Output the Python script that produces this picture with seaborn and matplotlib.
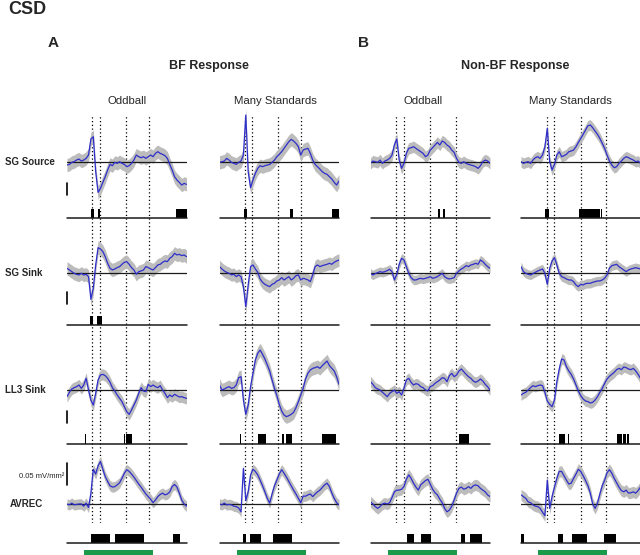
import numpy as np
import matplotlib
matplotlib.use("Agg")
import matplotlib.pyplot as plt
import seaborn as sns

# time axis of every trace (ms, relative to tone onset)
time_ms = np.arange(-100, 401, 10)

# mean CSD traces, uV/mm^2
sg_source_bf_odd = [-10, -8, -2, 0, 5, 8, 2, 5, 10, 20,
                    68, 75, -30, -92, -80, -62, -45, -25, -8, -12,
                    -2, -5, 0, -5, -8, -15, -12, -5, 5, 20,
                    15, 12, 15, 10, 15, 20, 15, 25, 30, 25,
                    22, 18, 10, -8, -25, -45, -55, -62, -70, -65,
                    -68]
sg_source_bf_ms = [-2, 0, 2, 10, 5, -2, -5, -8, -2, 2,
                   20, 140, -30, -78, -55, -35, -20, -12, -15, -12,
                   -10, -8, -2, 5, 15, 22, 30, 40, 50, 60,
                   67, 62, 55, 45, 20, 35, 38, 40, 25, 5,
                   -8, -15, -22, -30, -35, -38, -45, -52, -62, -70,
                   -58]
sg_source_nbf_odd = [-5, 2, 0, -2, 5, -5, 2, 5, 10, 20,
                     50, 68, 5, -20, -5, 25, 40, 42, 45, 40,
                     35, 30, 25, 15, 20, 35, 42, 50, 58, 50,
                     62, 58, 50, 45, 35, 28, 10, -2, -5, 0,
                     -5, -8, -10, -12, -15, -20, -12, 0, 5, 2,
                     -5]
sg_source_nbf_ms = [0, -5, -2, 0, -5, 5, 12, 15, 10, 20,
                    45, 100, 0, -25, -8, 20, 30, 15, 18, 22,
                    30, 32, 35, 45, 58, 70, 82, 95, 108, 110,
                    102, 92, 82, 70, 55, 40, 20, 2, -10, -18,
                    -15, -5, 2, 10, 15, 12, 8, 5, 0, 2,
                    -5]

sg_sink_bf_odd = [15, 10, 5, 0, -3, -5, 0, -5, -3, -10,
                  -78, -45, 25, 77, 73, 65, 50, 30, 15, 10,
                  13, 17, 20, 27, 33, 35, 27, 17, 10, -3,
                  5, 7, 10, 20, 17, 13, 10, 17, 25, 27,
                  33, 37, 35, 45, 50, 60, 55, 57, 53, 55,
                  50]
sg_sink_bf_ms = [20, 13, 7, 3, 0, -5, -3, -10, -5, -10,
                 -40, -100, -35, 20, 25, 13, 3, -17, -27, -33,
                 -37, -40, -33, -30, -23, -20, -13, -20, -15, -10,
                 -20, -15, -7, -5, -20, -15, -17, -20, -25, -5,
                 20, 25, 20, 23, 25, 27, 30, 27, 33, 37,
                 40]
sg_sink_nbf_odd = [0, -5, -1, 2, 5, 3, 5, 8, 12, 5,
                   -20, -3, 27, 45, 40, 20, 0, -13, -20, -20,
                   -17, -15, -17, -15, -13, -10, -15, -13, -10, -5,
                   0, -10, -15, -17, -15, -13, 0, 7, 13, 17,
                   23, 20, 25, 27, 30, 27, 40, 35, 27, 20,
                   15]
sg_sink_nbf_ms = [20, 5, 0, -3, -5, -1, 3, 7, 10, 13,
                  0, -33, 15, 37, 47, 25, 0, -10, -13, -17,
                  -20, -20, -25, -35, -40, -33, -35, -31, -30, -30,
                  -27, -25, -23, -23, -20, -15, -5, 15, 23, 25,
                  27, 20, 15, 10, 5, 10, 13, 15, 17, 15,
                  13]

ll3_sink_bf_odd = [-20, -7, 3, 7, 10, 15, 5, 15, 35, 0,
                   -30, -45, -10, 30, 45, 47, 43, 35, 23, 7,
                   -3, -15, -25, -35, -50, -65, -73, -60, -45, -30,
                   -10, 7, -3, -5, 17, 10, 15, 10, 7, 13,
                   0, -10, -23, -15, -20, -13, -17, -21, -20, -23,
                   -25]
ll3_sink_bf_ms = [15, 0, 3, 7, 10, 5, 7, 15, 37, 40,
                  -30, -73, -45, 10, 50, 90, 110, 120, 107, 93,
                  75, 57, 30, 5, -17, -43, -63, -75, -80, -77,
                  -73, -67, -53, -35, -15, 5, 33, 50, 60, 65,
                  67, 70, 65, 73, 80, 87, 73, 65, 57, 40,
                  17]
ll3_sink_nbf_odd = [25, 17, 7, 3, 0, -7, -13, -20, -10, -5,
                    0, -10, -5, -15, 5, 30, 35, 23, 15, 19,
                    17, 10, 7, 0, -3, 10, 13, 20, 25, 30,
                    37, 35, 25, 43, 50, 40, 45, 57, 63, 55,
                    47, 40, 35, 27, 23, 27, 33, 27, 17, 10,
                    0]
ll3_sink_nbf_ms = [-15, -10, -7, 0, 7, 13, 10, 13, 15, 13,
                   -7, -33, -43, -50, -30, 25, 63, 93, 90, 70,
                   57, 47, 33, 15, -3, -17, -27, -33, -35, -39,
                   -37, -30, -20, -7, 5, 20, 33, 41, 47, 53,
                   61, 65, 61, 69, 67, 63, 61, 65, 57, 47,
                   35]

avrec_bf_odd = [0, -2, 2, -2, -1, 0, 0, -5, 2, -8,
                25, 80, 69, 88, 98, 80, 63, 52, 42, 39,
                40, 44, 49, 59, 71, 79, 75, 69, 62, 54,
                46, 39, 31, 23, 17, 11, 3, 9, 17, 22,
                25, 21, 23, 28, 40, 45, 39, 25, 9, 0,
                -5]
avrec_bf_ms = [0, -2, 2, -2, -1, -2, -5, -6, -9, -18,
               82, 8, 28, 67, 80, 75, 67, 55, 42, 28,
               13, 2, 23, 42, 55, 69, 79, 71, 62, 52,
               42, 32, 23, 13, 3, 18, 18, 21, 23, 17,
               23, 28, 32, 38, 44, 48, 40, 25, 13, 3,
               -2]
avrec_nbf_odd = [5, 0, -6, -10, -6, 0, 2, 0, 3, 15,
                 28, 32, 32, 34, 40, 57, 67, 59, 48, 39,
                 32, 44, 49, 54, 57, 46, 34, 26, 21, 11,
                 3, -10, -18, -14, -5, 9, 25, 36, 39, 34,
                 36, 40, 36, 42, 44, 42, 36, 32, 28, 21,
                 17]
avrec_nbf_ms = [21, 17, 13, 5, 3, -2, -5, -6, -10, -19,
                -27, 55, -10, 17, 39, 59, 75, 75, 65, 55,
                46, 48, 59, 69, 80, 75, 65, 54, 42, 25,
                0, -10, 2, 23, 42, 55, 72, 79, 71, 59,
                49, 39, 31, 28, 32, 25, 26, 28, 25, 31,
                39]

# standard error (uV/mm^2), one per panel
sem_sg_source = [20, 20, 17, 16]
sem_sg_sink = [20, 19, 14, 14]
sem_ll3_sink = [17, 20, 16, 16]
sem_avrec = [12, 12, 13, 13]

# significant time windows (ms) per panel
sig_sg_source = [[(2, 11), (31, 38), (358, 400)],
                 [(4, 13), (197, 208), (372, 400)],
                 [(184, 192), (202, 212)],
                 [(2, 17), (142, 232), (234, 241)]]
sig_sg_sink = [[(-2, 10), (26, 47)], [], [], []]
sig_ll3_sink = [[(-24, -21), (140, 142), (145, 171)],
                [(-13, -10), (59, 95), (161, 171), (178, 205), (329, 386)],
                [(271, 311)],
                [(61, 85), (88, 90), (96, 100), (302, 323), (326, 340), (342, 351)]]
sig_avrec = [[(1, 78), (99, 222), (344, 372)],
             [(0, 11), (28, 72), (125, 203)],
             [(51, 82), (112, 154), (277, 294), (315, 365)],
             [(-100, -87), (53, 77), (115, 175), (249, 298)]]

row_names = ['SG Source', 'SG Sink', 'LL3 Sink', 'AVREC']
cond_names = ['Oddball', 'Many Standards', 'Oddball', 'Many Standards']
events_bf = [6, 37, 146, 243]
events_nbf = [7, 39, 151, 256]
stim_window = (-27, 260)
scale_bar_uv = [(-100, -64), (-92, -55), (-100, -63), (44, 94)]

traces = [[sg_source_bf_odd, sg_source_bf_ms, sg_source_nbf_odd, sg_source_nbf_ms],
          [sg_sink_bf_odd, sg_sink_bf_ms, sg_sink_nbf_odd, sg_sink_nbf_ms],
          [ll3_sink_bf_odd, ll3_sink_bf_ms, ll3_sink_nbf_odd, ll3_sink_nbf_ms],
          [avrec_bf_odd, avrec_bf_ms, avrec_nbf_odd, avrec_nbf_ms]]
sems = [sem_sg_source, sem_sg_sink, sem_ll3_sink, sem_avrec]
sigs = [sig_sg_source, sig_sg_sink, sig_ll3_sink, sig_avrec]

sns.set_style('white')
plt.rcParams['font.family'] = ['Liberation Sans', 'DejaVu Sans']

W, H = 640, 555
fig = plt.figure(figsize=(6.4, 5.55), dpi=100)


def px_axes(x0, y0, x1, y1):
    # axes placed in pixel coords (y down)
    ax = fig.add_axes([x0 / W, 1 - y1 / H, (x1 - x0) / W, (y1 - y0) / H])
    ax.set_xlim(-100, 400)
    ax.axis('off')
    ax.patch.set_alpha(0)
    return ax


def fig_text(x, y, s, **kw):
    fig.text(x / W, 1 - y / H, s, **kw)


col_left = [67, 219.5, 370.5, 521]
col_w = 119.5
baseline_px = [161.7, 273.3, 390, 504]
uv_per_px = [3, 3, 3, 50 / 21.7]
sig_px = [(209.3, 218.3), (316, 325), (434.3, 444), (534.3, 543.3)]
blue = '#2e2ecc'
band = '#bcbcbc'

for c in range(4):
    x0 = col_left[c]
    events = events_bf if c < 2 else events_nbf
    # dotted event markers through all rows
    ev = px_axes(x0, 115, x0 + col_w, 523)
    for e in events:
        ev.axvline(e, color='black', lw=0.9, ls=(0, (1, 2)))
    # stimulus bar
    st = px_axes(x0, 550, x0 + col_w, 554.5)
    st.set_ylim(0, 1)
    st.axvspan(stim_window[0], stim_window[1], color='#1b9a4a', lw=0)

    for r in range(4):
        b = baseline_px[r]
        k = uv_per_px[r]
        ax = px_axes(x0, b - 80, x0 + col_w, b + 60)
        ax.set_ylim(-60 * k, 80 * k)
        y = np.array(traces[r][c], dtype=float)
        s = sems[r][c]
        ax.fill_between(time_ms, y - s, y + s, color=band, lw=0)
        ax.axhline(0, color='#1a1a1a', lw=0.9)
        sns.lineplot(x=time_ms, y=y, ax=ax, color=blue, lw=0.9)
        if c == 0:
            ax.plot([-100, -100], scale_bar_uv[r], color='black', lw=1.2, clip_on=False)

        sa = px_axes(x0, sig_px[r][0], x0 + col_w, sig_px[r][1])
        sa.set_ylim(0, 1)
        for a, e in sigs[r][c]:
            sa.axvspan(a, e, color='black', lw=0)
        sa.axhline(0, color='#1a1a1a', lw=1.1, clip_on=False)

# labels
fig_text(8, 10, 'CSD', fontsize=13, fontweight='bold', va='center')
fig_text(48, 43, 'A', fontsize=11, fontweight='bold', va='center')
fig_text(358, 43, 'B', fontsize=11, fontweight='bold', va='center')
fig_text(209, 66, 'BF Response', fontsize=9, fontweight='bold', ha='center', va='center')
fig_text(515, 66, 'Non-BF Response', fontsize=9, fontweight='bold', ha='center', va='center')
for xc, name in zip([127.3, 275, 422.7, 570.8], cond_names):
    fig_text(xc, 101.5, name, fontsize=8.2, ha='center', va='center')
for r, name in enumerate(row_names):
    xl = 10 if name == 'AVREC' else 5
    fig_text(xl, baseline_px[r], name, fontsize=7, fontweight='bold', va='center')
fig_text(64, 476, '0.05 mV/mm²', fontsize=5.5, ha='right', va='center')

fig.savefig('out.png', dpi=100)
